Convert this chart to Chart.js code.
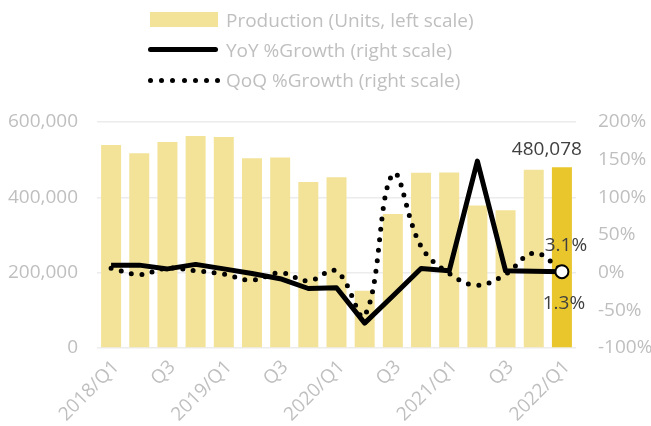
<!DOCTYPE html>
<html>
<head>
<meta charset="utf-8">
<script src="https://cdn.jsdelivr.net/npm/chart.js@4.4.1/dist/chart.umd.min.js"></script>
<style>
html,body{margin:0;padding:0;background:#ffffff;}
#wrap{position:relative;width:651px;height:426px;overflow:hidden;}
#chart{position:absolute;left:0;top:0;}
.lg{position:absolute;font-family:"Open Sans",sans-serif;font-size:19px;color:#bfbfbf;line-height:30px;white-space:nowrap;}
.sw{position:absolute;}
.dot{position:absolute;width:5px;height:5px;border-radius:50%;background:#000;}
</style>
</head>
<body>
<div id="wrap">
  <canvas id="chart" width="651" height="426"></canvas>
  <div class="sw" style="left:150px;top:12px;width:68px;height:15px;background:#f3e399;"></div>
  <div class="lg" style="left:226px;top:5px;">Production (Units, left scale)</div>
  <div class="sw" style="left:148px;top:47px;width:70px;height:5px;border-radius:2.5px;background:#000;"></div>
  <div class="lg" style="left:226px;top:35px;">YoY %Growth (right scale)</div>
  <div id="dots"></div>
  <div class="lg" style="left:226px;top:65px;">QoQ %Growth (right scale)</div>
</div>
<script>
const categories = ["2018/Q1","Q2","Q3","Q4","2019/Q1","Q2","Q3","Q4","2020/Q1","Q2","Q3","Q4","2021/Q1","Q2","Q3","Q4","2022/Q1"];
const production = [539000, 517000, 547000, 563000, 560000, 504000, 506000, 441000, 453000, 152000, 356000, 465000, 466000, 378000, 366000, 473000, 480078];
const yoyGrowth = [10, 10, 5, 11, 5, -1, -8, -21, -20, -67, -31, 5.5, 2.4, 148, 2.4, 2, 1.3];
const qoqGrowth = [6, -2.5, 6, 2.5, -2, -10, 0, -11, 2, -57, 131, 35, -1, -16.6, -2, 26, 3.1];
const leftTicks = [0, 200000, 400000, 600000];
const rightTicks = [-100, -50, 0, 50, 100, 150, 200];

// legend dotted swatch
(function(){
  const d = document.getElementById('dots');
  for (let i = 0; i < 7; i++) {
    const s = document.createElement('div');
    s.className = 'dot';
    s.style.left = (148 + i * 11.2) + 'px';
    s.style.top = '78px';
    d.appendChild(s);
  }
})();

const lastIdx = production.length - 1;
const barColors = production.map((v, i) => i === lastIdx ? '#e9c62c' : '#f3e399');
const yoyRadius = yoyGrowth.map((v, i) => i === lastIdx ? 6.5 : 0);

const labelPlugin = {
  id: 'valueLabels',
  afterDatasetsDraw(chart) {
    const ctx = chart.ctx;
    ctx.save();
    ctx.font = '19px "Open Sans"';
    ctx.fillStyle = '#404040';
    ctx.textAlign = 'center';
    ctx.textBaseline = 'alphabetic';
    const bar = chart.getDatasetMeta(0).data[lastIdx];
    ctx.fillText(production[lastIdx].toLocaleString('en-US'), bar.x - 15, bar.y - 12);
    const qp = chart.getDatasetMeta(2).data[lastIdx];
    ctx.fillText(qoqGrowth[lastIdx].toFixed(1) + '%', qp.x + 4, qp.y - 19);
    const yp = chart.getDatasetMeta(1).data[lastIdx];
    ctx.fillText(yoyGrowth[lastIdx].toFixed(1) + '%', yp.x + 2, yp.y + 37);
    ctx.restore();
  }
};

new Chart(document.getElementById('chart'), {
  type: 'bar',
  data: {
    labels: categories,
    datasets: [
      {
        type: 'bar',
        label: 'Production (Units, left scale)',
        data: production,
        backgroundColor: barColors,
        borderWidth: 0,
        barPercentage: 0.71,
        categoryPercentage: 1.0,
        yAxisID: 'y',
        order: 3
      },
      {
        type: 'line',
        label: 'YoY %Growth (right scale)',
        data: yoyGrowth,
        borderColor: '#000000',
        borderWidth: 5,
        tension: 0,
        pointRadius: yoyRadius,
        pointBackgroundColor: '#ffffff',
        pointBorderColor: '#000000',
        pointBorderWidth: 2,
        borderJoinStyle: 'round',
        yAxisID: 'y1',
        order: 1
      },
      {
        type: 'line',
        label: 'QoQ %Growth (right scale)',
        data: qoqGrowth,
        borderColor: '#000000',
        borderWidth: 5,
        borderDash: [0, 10.5],
        borderCapStyle: 'round',
        tension: 0.4,
        pointRadius: 0,
        yAxisID: 'y1',
        order: 2
      }
    ]
  },
  options: {
    responsive: false,
    animation: false,
    devicePixelRatio: 1,
    layout: { padding: { top: 122, left: 0, right: 0, bottom: 0 } },
    plugins: { legend: { display: false }, tooltip: { enabled: false } },
    scales: {
      x: {
        grid: { display: false, drawTicks: false },
        border: { display: false },
        afterFit: s => { s.height = 78; },
        ticks: {
          autoSkip: false,
          maxRotation: 45,
          minRotation: 45,
          padding: 8,
          labelOffset: 5,
          color: '#bfbfbf',
          font: { family: 'Open Sans', size: 19 },
          callback: function(v, i) { return i % 2 === 0 ? categories[i] : null; }
        }
      },
      y: {
        position: 'left',
        min: 0,
        max: 600000,
        afterFit: s => { s.width = 97; },
        afterBuildTicks: s => { s.ticks = leftTicks.map(v => ({ value: v })); },
        grid: { color: '#ececec', lineWidth: 1.5, drawTicks: false },
        border: { display: false },
        ticks: {
          padding: 19,
          color: '#bfbfbf',
          font: { family: 'Open Sans', size: 19 },
          callback: v => v.toLocaleString('en-US')
        }
      },
      y1: {
        position: 'right',
        min: -100,
        max: 200,
        afterFit: s => { s.width = 75; },
        afterBuildTicks: s => { s.ticks = rightTicks.map(v => ({ value: v })); },
        grid: { display: false, drawTicks: false },
        border: { display: false },
        ticks: {
          padding: 22,
          color: '#bfbfbf',
          font: { family: 'Open Sans', size: 19 },
          callback: v => v + '%'
        }
      }
    }
  },
  plugins: [labelPlugin]
});
</script>
</body>
</html>
